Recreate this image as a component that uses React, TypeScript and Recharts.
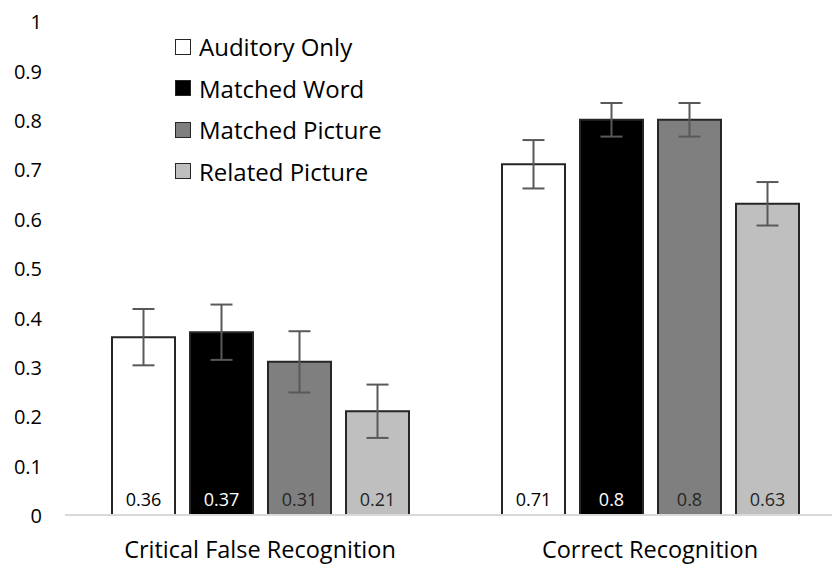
import {BarChart, Bar, XAxis, YAxis, ErrorBar, LabelList} from 'recharts';

const categories = ['Critical False Recognition', 'Correct Recognition'];
const seriesNames = ['Auditory Only', 'Matched Word', 'Matched Picture', 'Related Picture'];
const auditoryOnly = [0.36, 0.71];
const matchedWord = [0.37, 0.8];
const matchedPicture = [0.31, 0.8];
const relatedPicture = [0.21, 0.63];
const auditoryOnlyErr = [0.057, 0.049];
const matchedWordErr = [0.056, 0.034];
const matchedPictureErr = [0.062, 0.034];
const relatedPictureErr = [0.054, 0.044];
const yTicks = [0, 0.1, 0.2, 0.3, 0.4, 0.5, 0.6, 0.7, 0.8, 0.9, 1];

const fills = ['#ffffff', '#000000', '#7f7f7f', '#bfbfbf'];
const labelColors = ['#000000', '#ffffff', '#262626', '#262626'];
const keys = ['a', 'b', 'c', 'd'];

const chartData = categories.map((name, i) => ({
    name,
    a: auditoryOnly[i],
    b: matchedWord[i],
    c: matchedPicture[i],
    d: relatedPicture[i],
    aErr: auditoryOnlyErr[i],
    bErr: matchedWordErr[i],
    cErr: matchedPictureErr[i],
    dErr: relatedPictureErr[i],
}));

const font = '"Open Sans", sans-serif';

export default function App() {
    return (
        <div style={{position: 'relative', width: 832, height: 566, overflow: 'hidden', background: '#fff'}}>
            <style>{`body{margin:0;overflow:hidden}`}</style>
            <BarChart
                width={850}
                height={566}
                data={chartData}
                margin={{top: 21, right: 5, bottom: 0, left: 0}}
                barSize={63}
                barGap={15}
            >
                <XAxis
                    dataKey='name'
                    axisLine={{stroke: '#d9d9d9', strokeWidth: 2}}
                    tickLine={false}
                    height={51}
                    tick={{fontSize: 23.5, fill: '#000', fontFamily: font, dy: 18}}
                />
                <YAxis
                    type='number'
                    domain={[0, 1]}
                    ticks={yTicks}
                    width={65}
                    axisLine={false}
                    tickLine={false}
                    tickFormatter={(v: number) => String(Math.round(v * 10) / 10)}
                    tick={{fontSize: 20, fill: '#000', fontFamily: font, dx: -15, dy: 1}}
                />
                {keys.map((k, i) => (
                    <Bar
                        key={k}
                        dataKey={k}
                        name={seriesNames[i]}
                        fill={fills[i]}
                        stroke='#262626'
                        strokeWidth={2}
                        isAnimationActive={false}
                    >
                        <ErrorBar dataKey={k + 'Err'} width={11} stroke='#595959' strokeWidth={2} direction='y' />
                        <LabelList
                            dataKey={k}
                            position='insideBottom'
                            offset={9}
                            fill={labelColors[i]}
                            fontSize={18}
                            fontFamily={font}
                            formatter={(v: number) => String(v)}
                        />
                    </Bar>
                ))}
            </BarChart>
            <div style={{position: 'absolute', left: 175, top: 26, fontFamily: font}}>
                {seriesNames.map((s, i) => (
                    <div key={s} style={{display: 'flex', alignItems: 'center', height: 41.5}}>
                        <div style={{width: 14, height: 14, background: fills[i], border: '1.5px solid #262626', marginRight: 8}} />
                        <span style={{fontSize: 24, color: '#000'}}>{s}</span>
                    </div>
                ))}
            </div>
        </div>
    );
}
